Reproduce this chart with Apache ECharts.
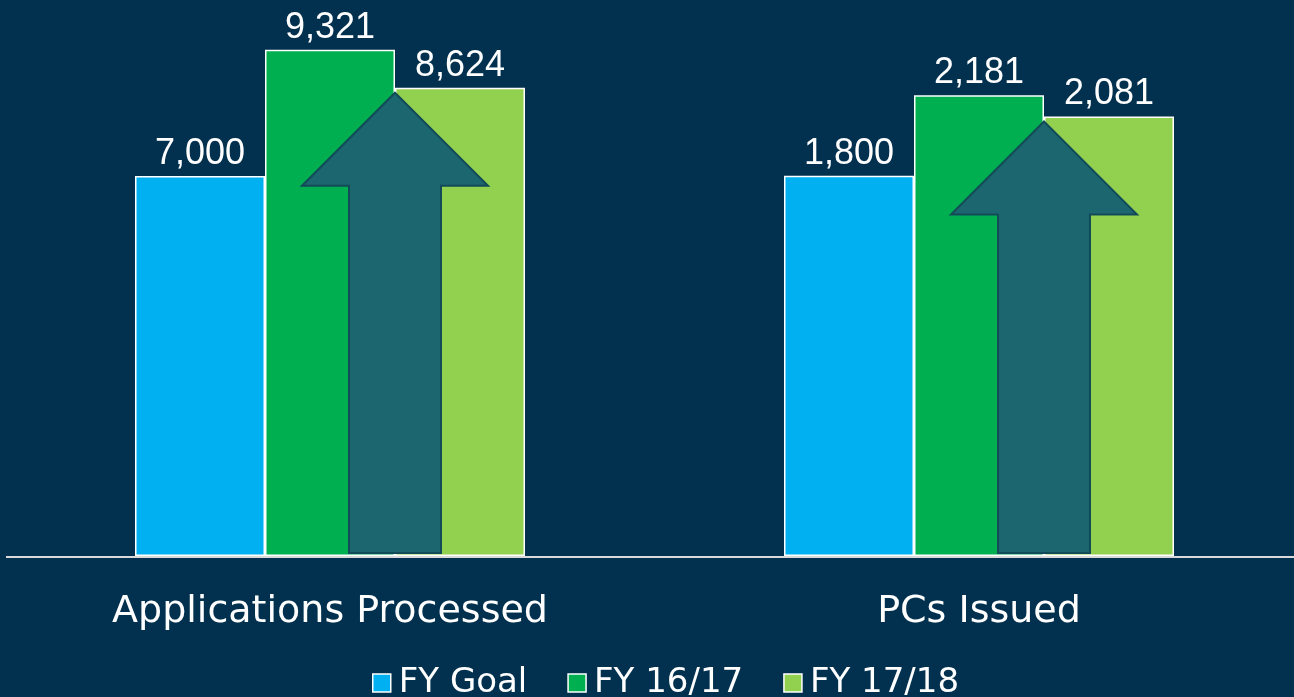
<!DOCTYPE html>
<html>
<head>
<meta charset="utf-8">
<script src="https://cdn.jsdelivr.net/npm/echarts@6/dist/echarts.min.js"></script>
<style>
  html, body { margin: 0; padding: 0; background: #02314f; }
  #chart { width: 1294px; height: 697px; }
</style>
</head>
<body>
<div id="chart"></div>
<script>
// categories, each drawn on its own value scale (as in the source slide)
const categories = ['Applications Processed', 'PCs Issued']
const seriesNames = ['FY Goal', 'FY 16/17', 'FY 17/18']
const goal = [7000, 1800]
const fy1617 = [9321, 2181]
const fy1718 = [8624, 2081]
const axisMax = [10000, 2500]

const colors = ['#00b0f0', '#00b050', '#92d050']
const values = [goal, fy1617, fy1718]

const chart = echarts.init(document.getElementById('chart'))

let grids = [
  { left: 6, width: 648, top: 13, bottom: 141 },
  { left: 664, width: 630, top: 28, bottom: 141 }
]

let xAxes = categories.map((c, i) => ({
  type: 'category',
  gridIndex: i,
  data: [c],
  axisTick: { show: false },
  axisLine: { show: false },
  axisLabel: { color: '#fff', fontSize: 38, fontFamily: 'DejaVu Sans', margin: 37 }
}))

let yAxes = categories.map((c, i) => ({
  type: 'value',
  gridIndex: i,
  min: 0,
  max: axisMax[i],
  show: false,
  splitLine: { show: false }
}))

let series = []
categories.forEach((c, i) => {
  seriesNames.forEach((name, s) => {
    series.push({
      name: name,
      type: 'bar',
      xAxisIndex: i,
      yAxisIndex: i,
      barWidth: 130,
      barGap: '0%',
      data: [values[s][i]],
      itemStyle: { color: colors[s], borderColor: '#fff', borderWidth: 1.5 },
      label: {
        show: true,
        position: 'top',
        distance: 4,
        color: '#fff',
        fontSize: 36,
        fontFamily: 'Liberation Sans',
        formatter: p => p.value.toLocaleString('en-US')
      },
      z: 2
    })
  })
})

chart.setOption({
  backgroundColor: '#02314f',
  animation: false,
  grid: grids,
  xAxis: xAxes,
  yAxis: yAxes,
  legend: {
    data: seriesNames,
    top: 661,
    left: 367,
    itemWidth: 18,
    itemHeight: 18,
    itemGap: 40,
    icon: 'rect',
    itemStyle: { borderColor: '#fff', borderWidth: 1.5 },
    textStyle: { color: '#fff', fontSize: 34, fontFamily: 'DejaVu Sans', padding: [0, 0, 0, 3] }
  },
  series: series
})

// 基线 + 上升箭头, placed from the bars' pixel positions
let baseY = chart.convertToPixel({ xAxisIndex: 0, yAxisIndex: 0 }, [0, 0])[1]
let graphics = [{
  type: 'line',
  z: 5,
  shape: { x1: 6, y1: baseY + 1, x2: 1294, y2: baseY + 1 },
  style: { stroke: '#d9d9d9', lineWidth: 2 }
}]
categories.forEach((c, i) => {
  let base = chart.convertToPixel({ xAxisIndex: i, yAxisIndex: i }, [0, 0])
  let top = chart.convertToPixel({ xAxisIndex: i, yAxisIndex: i }, [0, fy1718[i]])
  let cx = base[0] + 65
  let tipY = top[1] + 5
  let headY = tipY + 93
  let bottomY = base[1] - 3
  graphics.push({
    type: 'polygon',
    z: 10,
    shape: {
      points: [
        [cx, tipY], [cx + 93, headY], [cx + 46, headY], [cx + 46, bottomY],
        [cx - 46, bottomY], [cx - 46, headY], [cx - 93, headY]
      ]
    },
    style: { fill: '#1c6670', stroke: '#124a58', lineWidth: 2 }
  })
})
chart.setOption({ graphic: graphics })
</script>
</body>
</html>
